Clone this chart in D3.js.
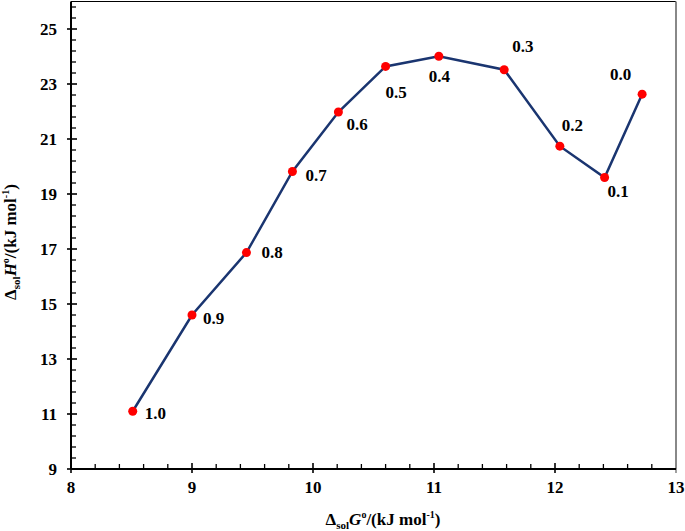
<!DOCTYPE html>
<html>
<head>
<meta charset="utf-8">
<script src="https://cdn.jsdelivr.net/npm/d3@7"></script>
<style>
  html, body { margin: 0; padding: 0; background: #fff; }
  svg { display: block; }
  text { font-family: "Liberation Serif", "Times New Roman", serif; font-weight: bold; }
</style>
</head>
<body>
<script>
// ---- data ----
const solventFractions = ["1.0", "0.9", "0.8", "0.7", "0.6", "0.5", "0.4", "0.3", "0.2", "0.1", "0.0"];
const deltaG = [8.51, 9.00, 9.45, 9.83, 10.21, 10.60, 11.04, 11.58, 12.04, 12.41, 12.72];
const deltaH = [11.10, 14.60, 16.87, 19.82, 21.98, 23.64, 24.01, 23.52, 20.74, 19.60, 22.63];
const xTickValues = [8, 9, 10, 11, 12, 13];
const yTickValues = [9, 11, 13, 15, 17, 19, 21, 23, 25];
// label placement relative to each point (dx, dy in px)
const labelDx = [12, 11, 15, 13, 8, 0, -10, 8, 2, 3, -32];
const labelDy = [8, 9, 5, 10, 18, 32, 26, -18, -15, 19, -14];

const W = 685, H = 531;
const svg = d3.select("body").append("svg").attr("width", W).attr("height", H);

const x = d3.scaleLinear().domain([8, 13]).range([71, 676]);
const y = d3.scaleLinear().domain([9, 26]).range([469, 1.5]);

// frame: top and right
svg.append("line").attr("x1", x(8)).attr("x2", x(13)).attr("y1", y(26)).attr("y2", y(26))
  .attr("stroke", "#000").attr("stroke-width", 1);
svg.append("line").attr("x1", x(13)).attr("x2", x(13)).attr("y1", y(26)).attr("y2", y(9))
  .attr("stroke", "#888").attr("stroke-width", 2);

// minor ticks
const xMinor = d3.range(8, 13.001, 0.2).filter(v => Math.abs(v - Math.round(v)) > 1e-6);
const yMinor = d3.range(9, 25.9, 0.4).filter(v => !yTickValues.some(t => Math.abs(t - v) < 1e-6));

const gx = svg.append("g");
gx.selectAll("line.minor").data(xMinor).join("line")
  .attr("x1", d => x(d)).attr("x2", d => x(d)).attr("y1", y(9)).attr("y2", y(9) - 5)
  .attr("stroke", "#000").attr("stroke-width", 1.3);
gx.selectAll("line.major").data(xTickValues).join("line")
  .attr("x1", d => x(d)).attr("x2", d => x(d)).attr("y1", y(9) + 4).attr("y2", y(9) - 6)
  .attr("stroke", d => d === 13 ? "#888" : "#000").attr("stroke-width", 1.6);
gx.selectAll("text").data(xTickValues).join("text")
  .attr("x", d => x(d)).attr("y", 493).attr("text-anchor", "middle")
  .attr("font-size", 17).text(d => d);

const gy = svg.append("g");
gy.selectAll("line.minor").data(yMinor).join("line")
  .attr("x1", x(8)).attr("x2", x(8) + 5).attr("y1", d => y(d)).attr("y2", d => y(d))
  .attr("stroke", "#000").attr("stroke-width", 1.3);
gy.selectAll("line.major").data(yTickValues).join("line")
  .attr("x1", x(8) - 4).attr("x2", x(8) + 6).attr("y1", d => y(d)).attr("y2", d => y(d))
  .attr("stroke", "#000").attr("stroke-width", 1.6);
gy.selectAll("text").data(yTickValues).join("text")
  .attr("x", 57).attr("y", d => y(d) + 6).attr("text-anchor", "end")
  .attr("font-size", 17).text(d => d);

// axis lines
svg.append("line").attr("x1", x(8)).attr("x2", x(13)).attr("y1", y(9)).attr("y2", y(9))
  .attr("stroke", "#000").attr("stroke-width", 2);
svg.append("line").attr("x1", x(8)).attr("x2", x(8)).attr("y1", y(9)).attr("y2", y(26))
  .attr("stroke", "#000").attr("stroke-width", 2);

// data line
const pts = deltaG.map((g, i) => ({ g, h: deltaH[i], lab: solventFractions[i], i }));
svg.append("path").datum(pts)
  .attr("d", d3.line().x(d => x(d.g)).y(d => y(d.h)))
  .attr("fill", "none").attr("stroke", "#1a3570").attr("stroke-width", 2.5);
svg.selectAll("circle.pt").data(pts).join("circle")
  .attr("cx", d => x(d.g)).attr("cy", d => y(d.h)).attr("r", 4.5).attr("fill", "#ff0000");
svg.selectAll("text.lab").data(pts).join("text")
  .attr("x", d => x(d.g) + labelDx[d.i]).attr("y", d => y(d.h) + labelDy[d.i])
  .attr("font-size", 17).text(d => d.lab);

// axis titles
const xt = svg.append("text").attr("x", 383).attr("y", 525).attr("text-anchor", "middle").attr("font-size", 17);
xt.append("tspan").text("Δ");
xt.append("tspan").attr("font-size", 11).attr("dy", 4).text("sol");
xt.append("tspan").attr("dy", -4).attr("font-style", "italic").text("G");
xt.append("tspan").attr("font-size", 10).attr("dy", -7).text("o");
xt.append("tspan").attr("dy", 7).text("/(kJ mol");
xt.append("tspan").attr("font-size", 10).attr("dy", -7).text("-1");
xt.append("tspan").attr("dy", 7).text(")");

const yt = svg.append("text").attr("transform", "translate(16,242) rotate(-90)")
  .attr("text-anchor", "middle").attr("font-size", 17);
yt.append("tspan").text("Δ");
yt.append("tspan").attr("font-size", 11).attr("dy", 4).text("sol");
yt.append("tspan").attr("dy", -4).attr("font-style", "italic").text("H");
yt.append("tspan").attr("font-size", 10).attr("dy", -7).text("o");
yt.append("tspan").attr("dy", 7).text("/(kJ mol");
yt.append("tspan").attr("font-size", 10).attr("dy", -7).text("-1");
yt.append("tspan").attr("dy", 7).text(")");
</script>
</body>
</html>
